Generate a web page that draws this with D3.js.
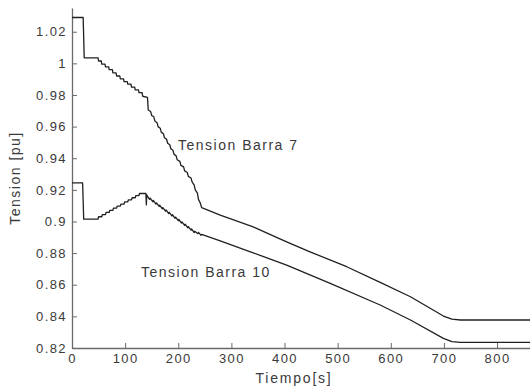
<!DOCTYPE html>
<html><head><meta charset="utf-8">
<script src="https://cdn.jsdelivr.net/npm/d3@7"></script>
<style>
html,body{margin:0;padding:0;background:#fff;}
svg text{font-family:"Liberation Sans",Arial,Helvetica,sans-serif;fill:#3a3a3a;}
</style></head>
<body><svg id="chart" width="530" height="390"></svg>
<script>
// ---- data ----
const timeB7 = [0,21,23,49,50,55,56,62,63,69,70,76,77,83,84,90,91,97,98,104,105,111,112,118,119,125,126,132,133,142,143.5,
  148,150,154,156,160,162,166,168,172,174,178,180,184,186,190,192,196,198,203,205,210,212,217,219,224,226,230,232,236,238,241,244,
  279,341,404,448,517,580,637,699,715,731,870];
const voltB7 = [1.029,1.029,1.0035,1.0035,1.0015,1.0015,0.9995,0.9995,0.9978,0.9978,0.996,0.996,0.994,0.994,0.992,0.992,0.9902,0.9902,0.9885,0.9885,0.9868,0.9868,0.985,0.985,0.9832,0.9832,0.9815,0.9815,0.9792,0.9785,0.9705,
  0.9695,0.967,0.9662,0.9635,0.9625,0.96,0.959,0.9565,0.9555,0.953,0.952,0.9495,0.9485,0.946,0.945,0.9425,0.9415,0.939,0.938,0.9355,0.9345,0.932,0.931,0.9285,0.9275,0.925,0.923,0.92,0.918,0.914,0.912,0.9088,
  0.904,0.8966,0.8871,0.8808,0.8714,0.8615,0.8524,0.8402,0.8382,0.8377,0.8377];

const timeB10 = [0,20,22,49,50,56,57,63,64,70,71,77,78,84,85,91,92,98,99,105,106,112,113,119,120,126,127,133,139,140,140.6,
  141,146,147,152,153,158,159,164,165,170,171,176,177,182,183,188,189,194,195,200,201,206,207,212,213,218,219,224,225,230,231,237,238,243,244,
  279,341,404,486,580,637,699,715,731,870];
const voltB10 = [0.9244,0.9244,0.9015,0.9015,0.903,0.903,0.9043,0.9043,0.9057,0.9057,0.907,0.907,0.9084,0.9084,0.9097,0.9097,0.911,0.911,0.9124,0.9124,0.9137,0.9137,0.915,0.915,0.9164,0.9164,0.9177,0.9177,0.9177,0.9105,0.917,
  0.9165,0.914,0.9148,0.9125,0.9133,0.911,0.9118,0.9095,0.9103,0.908,0.9088,0.9065,0.9073,0.905,0.9058,0.9035,0.9043,0.902,0.9028,0.9005,0.9013,0.899,0.8998,0.8975,0.8983,0.896,0.8968,0.8945,0.8953,0.893,0.8938,0.8923,0.8931,0.8912,0.8918,
  0.8878,0.8802,0.8724,0.8609,0.8472,0.8377,0.8261,0.824,0.8236,0.8236];

const xTicks = [0,100,200,300,400,500,600,700,800];
const yTicks = [0.82,0.84,0.86,0.88,0.9,0.92,0.94,0.96,0.98,1,1.02];
const yTickLabels = ["0.82","0.84","0.86","0.88","0.9","0.92","0.94","0.96","0.98","1","1.02"];
const seriesLabels = ["Tension Barra 7","Tension Barra 10"];
const xTitle = "Tiempo[s]";
const yTitle = "Tension [pu]";

// ---- layout ----
const svg = d3.select("#chart");
const L = 72, R = 530, T = 8, B = 348;
const x = d3.scaleLinear().domain([0, 862]).range([L, R]);
const y = d3.scaleLinear().domain([0.82, 1.035]).range([B, T]);

svg.append("defs").append("clipPath").attr("id","clip")
  .append("rect").attr("x",L).attr("y",T-2).attr("width",R-L).attr("height",B-T+2);

const xAxis = d3.axisBottom(x).tickValues(xTicks).tickFormat(d3.format("d"))
  .tickSizeInner(-5).tickSizeOuter(0).tickPadding(6);
const yAxis = d3.axisLeft(y).tickValues(yTicks).tickFormat((d,i)=>yTickLabels[i])
  .tickSizeInner(-5).tickSizeOuter(0).tickPadding(5);

const gx = svg.append("g").attr("transform",`translate(0,${B})`).call(xAxis);
const gy = svg.append("g").attr("transform",`translate(${L},0)`).call(yAxis);
[gx,gy].forEach(g=>{
  g.select(".domain").attr("stroke","#6a6a6a").attr("stroke-width",1.3);
  g.selectAll(".tick line").attr("stroke","#6a6a6a");
  g.selectAll(".tick text").attr("font-size",13).attr("letter-spacing","1.4px")
    .style("font-family","'Liberation Sans',Arial,sans-serif").attr("fill","#3a3a3a");
});

const line = d3.line().x(d=>x(d[0])).y(d=>y(d[1]));
const s7 = timeB7.map((t,i)=>[t,voltB7[i]]);
const s10 = timeB10.map((t,i)=>[t,voltB10[i]]);
const g = svg.append("g").attr("clip-path","url(#clip)");
[s7,s10].forEach(s=>{
  g.append("path").datum(s).attr("d",line).attr("fill","none")
   .attr("stroke","#202020").attr("stroke-width",1.3).attr("stroke-linejoin","round");
});

// series labels
svg.append("text").attr("x",178).attr("y",150).attr("font-size",14).attr("letter-spacing","1.5px").text(seriesLabels[0]);
svg.append("text").attr("x",141).attr("y",277).attr("font-size",14).attr("letter-spacing","1.5px").text(seriesLabels[1]);

// axis titles
svg.append("text").attr("x",294).attr("y",383).attr("text-anchor","middle")
  .attr("font-size",14).attr("letter-spacing","1.8px").text(xTitle);
svg.append("text").attr("transform",`translate(20,178) rotate(-90)`).attr("text-anchor","middle")
  .attr("font-size",14).attr("letter-spacing","1.5px").text(yTitle);
</script></body></html>
